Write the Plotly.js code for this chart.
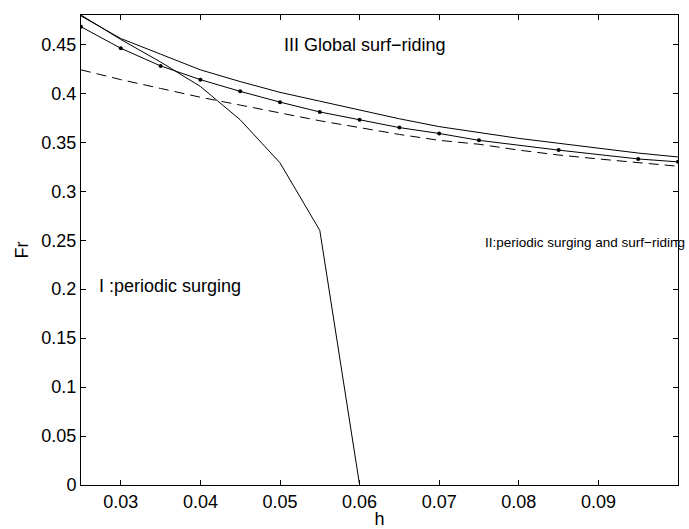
<!DOCTYPE html>
<html>
<head>
<meta charset="utf-8">
<script src="https://cdn.plot.ly/plotly-3.0.1.min.js"></script>
<style>html,body{margin:0;padding:0;background:#fff;}#chart{width:689px;height:529px;}</style>
</head>
<body>
<div id="chart"></div>
<script>
// Dotted (marker) boundary curve
const hDots = [0.025, 0.03, 0.035, 0.04, 0.045, 0.05, 0.055, 0.06, 0.065, 0.07, 0.075, 0.085, 0.095, 0.1];
const frDots = [0.468, 0.446, 0.428, 0.414, 0.402, 0.391, 0.381, 0.373, 0.365, 0.359, 0.352, 0.342, 0.333, 0.330];

// Upper solid boundary curve
const hUpper = [0.025, 0.03, 0.035, 0.04, 0.045, 0.05, 0.055, 0.06, 0.065, 0.07, 0.075, 0.08, 0.085, 0.09, 0.095, 0.1];
const frUpper = [0.479, 0.456, 0.440, 0.424, 0.412, 0.401, 0.392, 0.383, 0.374, 0.366, 0.360, 0.354, 0.349, 0.344, 0.339, 0.335];

// Steep solid boundary curve
const hSteep = [0.025, 0.03, 0.035, 0.04, 0.045, 0.05, 0.055, 0.06];
const frSteep = [0.480, 0.455, 0.432, 0.407, 0.373, 0.329, 0.260, 0.0];

// Dashed curve
const hDash = [0.025, 0.03, 0.035, 0.04, 0.045, 0.05, 0.055, 0.06, 0.065, 0.07, 0.075, 0.08, 0.085, 0.09, 0.095, 0.1];
const frDash = [0.424, 0.414, 0.405, 0.396, 0.388, 0.380, 0.372, 0.365, 0.358, 0.352, 0.348, 0.342, 0.337, 0.333, 0.329, 0.3255];

const xTickVals = [0.03, 0.04, 0.05, 0.06, 0.07, 0.08, 0.09, 0.1];
const xTickText = ["0.03", "0.04", "0.05", "0.06", "0.07", "0.08", "0.09", "0.1"];
const yTickVals = [0, 0.05, 0.1, 0.15, 0.2, 0.25, 0.3, 0.35, 0.4, 0.45];
const yTickText = ["0", "0.05", "0.1", "0.15", "0.2", "0.25", "0.3", "0.35", "0.4", "0.45"];

const regionLabels = ["III Global surf\u2212riding", "II:periodic surging and surf\u2212riding", "I :periodic surging"];
const regionX = [0.0502, 0.0755, 0.027];
const regionY = [0.449, 0.248, 0.203];
const regionSize = [18, 13.5, 18];

const font = "Liberation Sans, Arial, Helvetica, sans-serif";

const traces = [
  {x: hUpper, y: frUpper, mode: "lines", line: {color: "#000", width: 1}, hoverinfo: "skip"},
  {x: hSteep, y: frSteep, mode: "lines", line: {color: "#000", width: 1}, hoverinfo: "skip"},
  {x: hDots, y: frDots, mode: "lines+markers", line: {color: "#000", width: 1}, marker: {color: "#000", size: 4}, hoverinfo: "skip"},
  {x: hDash, y: frDash, mode: "lines", line: {color: "#000", width: 1, dash: "10px,6px"}, hoverinfo: "skip"}
];

const axisCommon = {
  showgrid: false, zeroline: false, showline: true, linecolor: "#000", linewidth: 1,
  mirror: "allticks", ticks: "inside", ticklen: 5, tickcolor: "#000", tickwidth: 1,
  tickfont: {family: font, size: 18, color: "#000"}, tickmode: "array"
};

const layout = {
  width: 689, height: 529,
  margin: {l: 81, r: 11, t: 15, b: 44},
  paper_bgcolor: "#fff", plot_bgcolor: "#fff",
  showlegend: false,
  font: {family: font, size: 18, color: "#000"},
  xaxis: Object.assign({}, axisCommon, {
    range: [0.025, 0.1000001], tickvals: xTickVals, ticktext: xTickText,
    title: {text: "h", font: {family: font, size: 18, color: "#000"}, standoff: 0}
  }),
  yaxis: Object.assign({}, axisCommon, {
    range: [0, 0.48], tickvals: yTickVals, ticktext: yTickText,
    title: {text: "Fr", font: {family: font, size: 18, color: "#000"}, standoff: 8}
  }),
  annotations: regionLabels.map((t, i) => ({
    text: t, x: regionX[i], y: regionY[i], xref: "x", yref: "y",
    xanchor: "left", yanchor: "middle", showarrow: false,
    font: {family: font, size: regionSize[i], color: "#000"}
  }))
};

Plotly.newPlot("chart", traces, layout, {displayModeBar: false, staticPlot: true});
</script>
</body>
</html>
